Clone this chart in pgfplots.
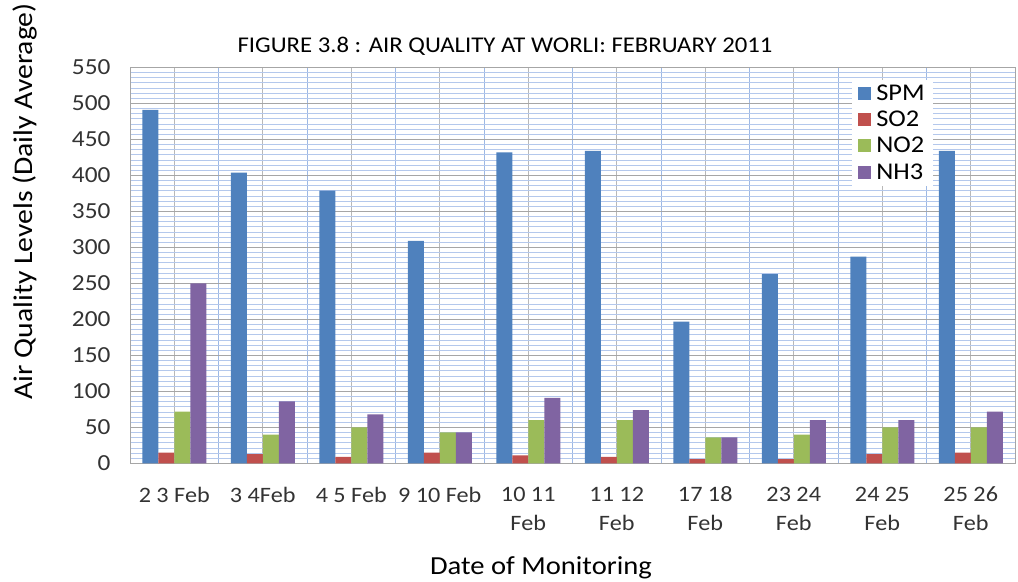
\documentclass[border=0pt]{standalone}
\usepackage{pgfplots}
\pgfplotsset{compat=1.18}
\usepackage{fontspec}
\setmainfont{Carlito}[FakeStretch=1.1]
\definecolor{cSPM}{HTML}{4F81BD}
\definecolor{cSO}{HTML}{C0504D}
\definecolor{cNO}{HTML}{9BBB59}
\definecolor{cNH}{HTML}{8064A2}
\definecolor{gmaj}{HTML}{A6A6A6}
\definecolor{gmin}{HTML}{B4C8EC}
\definecolor{gvmin}{HTML}{9DB8E4}
\definecolor{txt}{HTML}{333333}
\pgfplotstableread{
x SPM SO2 NO2 NH3
0 491 15 72 250
1 404 13 40 86
2 379 9 50 68
3 309 15 43 43
4 432 11 60 91
5 434 9 60 74
6 197 6 36 36
7 263 6 40 60
8 287 13 50 60
9 434 15 50 72
}\datatable
\begin{document}
\begin{tikzpicture}
\path (0,0) rectangle (1018pt,580pt);
\begin{axis}[
  at={(130pt,118pt)}, anchor=south west,
  scale only axis, width=885pt, height=396pt,
  ybar=0pt, bar width=16pt,
  xmin=-0.5, xmax=9.5, ymin=0, ymax=550,
  ytick={0,50,...,550},
  minor y tick num=6,
  xtick={0,...,9},
  minor xtick={-0.5,0.5,...,9.5},
  xticklabels={2 3 Feb,3 4Feb,4 5 Feb,9 10 Feb,10 11\\Feb,11 12\\Feb,17 18\\Feb,23 24\\Feb,24 25\\Feb,25 26\\Feb},
  xticklabel style={align=center, anchor=north, yshift=-20pt, font=\fontsize{22}{29}\selectfont, text=txt},
  yticklabel style={font=\fontsize{23}{25}\selectfont, text=txt, xshift=-16pt},
  /pgf/number format/assume math mode=true,
  major tick length=0pt, minor tick length=0pt,
  ymajorgrids, yminorgrids, xmajorgrids, xminorgrids,
  major y grid style={gmaj, line width=1pt},
  minor y grid style={gmin, line width=0.9pt},
  major x grid style={gmaj!80, line width=0.8pt},
  minor x grid style={gvmin, line width=1pt},
  axis line style={gmaj, line width=1pt},
  legend style={at={(0.816,0.968)}, anchor=north west, fill=white, draw=none,
    font=\fontsize{24}{26}\selectfont, row sep=5pt, inner xsep=6pt, inner ysep=3pt,
    cells={anchor=west}},
  legend image code/.code={\fill[#1] (2pt,-6.5pt) rectangle (15pt,6.5pt);},
]
\addplot[fill=cSPM, draw=none] table[x=x,y=SPM] {\datatable};
\addplot[fill=cSO, draw=none] table[x=x,y=SO2] {\datatable};
\addplot[fill=cNO, draw=none] table[x=x,y=NO2] {\datatable};
\addplot[fill=cNH, draw=none] table[x=x,y=NH3] {\datatable};
\legend{\hspace{3pt}SPM,\hspace{3pt}SO2,\hspace{3pt}NO2,\hspace{3pt}NH3}
\end{axis}
\node[font=\fontsize{22.5}{24}\selectfont] at (505pt,535pt) {FIGURE 3.8 : AIR QUALITY AT WORLI: FEBRUARY 2011};
\node[font=\fontsize{26}{28}\selectfont] at (541pt,14pt) {Date of Monitoring};
\node[font=\fontsize{27}{30}\selectfont, rotate=90] at (25pt,380pt) {Air Quality Levels (Daily Average)};
\end{tikzpicture}
\end{document}
